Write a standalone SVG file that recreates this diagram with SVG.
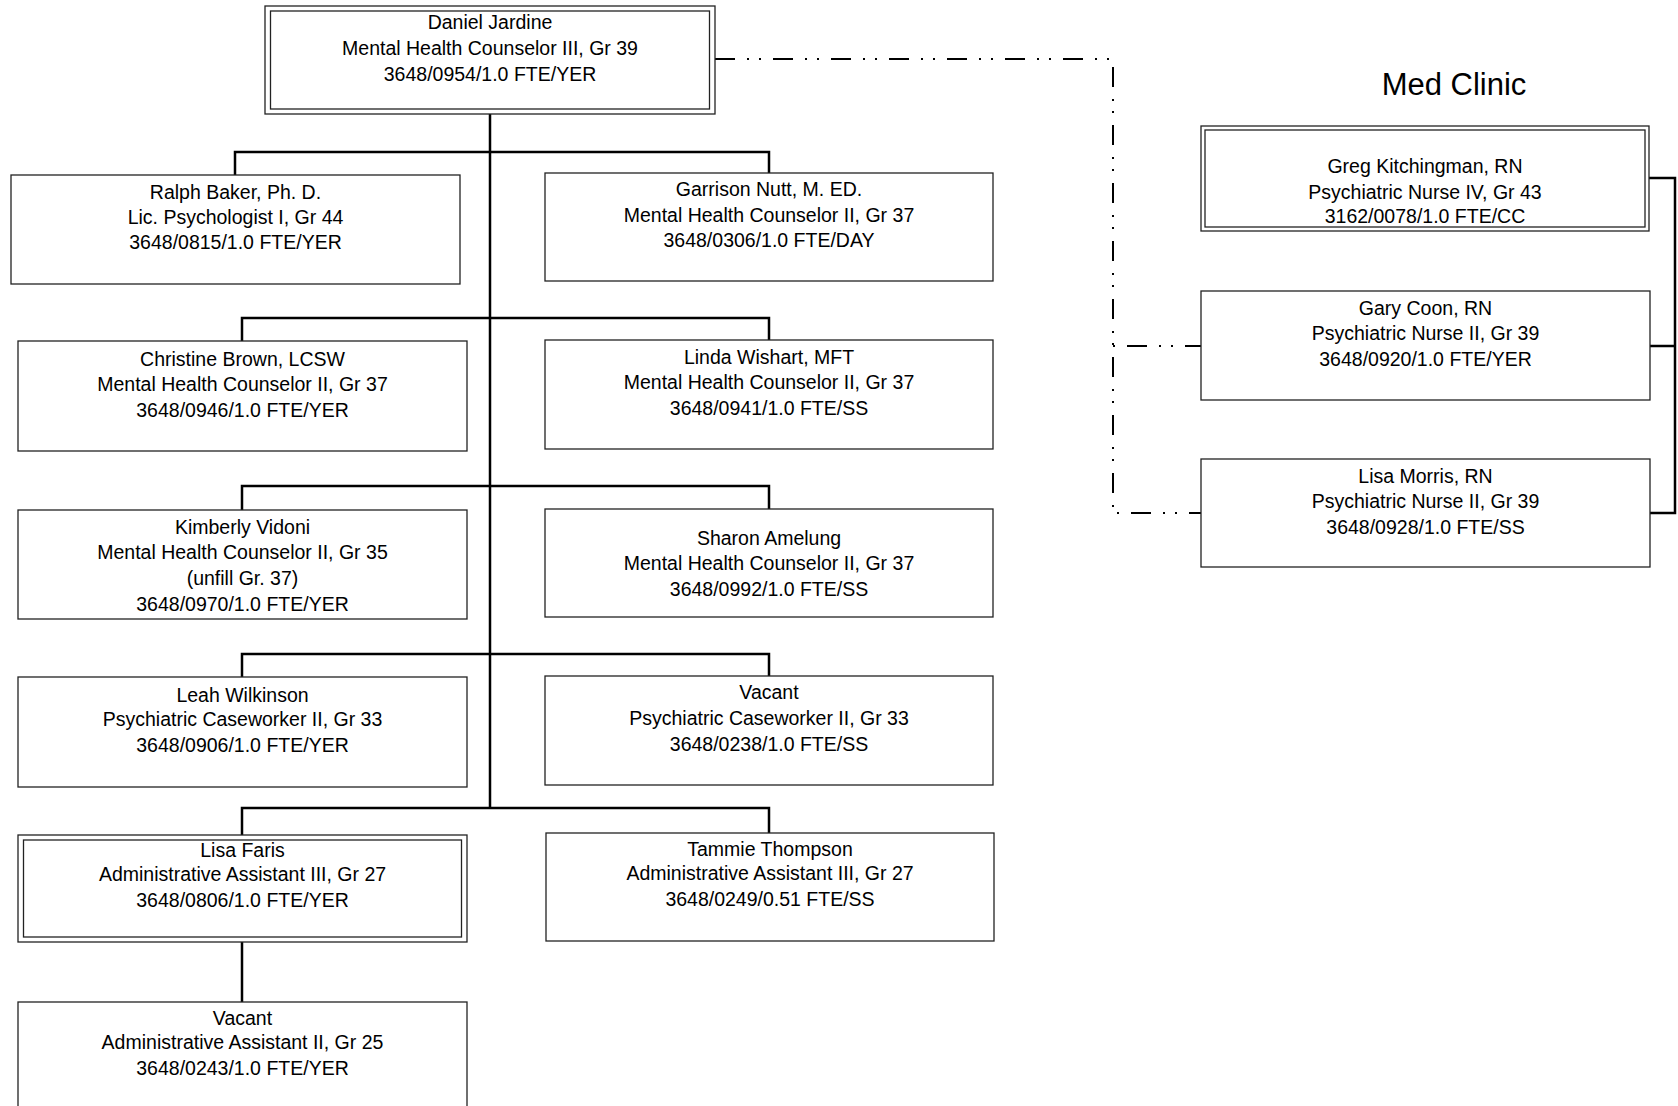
<svg xmlns="http://www.w3.org/2000/svg" width="1678" height="1106" viewBox="0 0 1678 1106">
<style>
.box{fill:#fff;stroke:#222;stroke-width:1.3}
.t{font-family:"Liberation Sans",Arial,sans-serif;font-size:19.5px;fill:#000;text-anchor:middle}
.title{font-family:"Liberation Sans",Arial,sans-serif;font-size:31px;fill:#000;text-anchor:middle}
.solid{fill:none;stroke:#000;stroke-width:2.5}
.dash{fill:none;stroke:#000;stroke-width:2;stroke-dasharray:20 12 2 10 2 12}
</style>
<rect width="1678" height="1106" fill="#fff"/>
<g id="connectors">
<path class="solid" d="M490,114 V808 M235,175 V152 H769 V173 M242,341 V318 H769 V340 M242,510 V486 H769 V509 M242,677 V654 H769 V676 M242,835 V808 H769 V833 M242,942 V1002"/>
<path class="solid" d="M1649,178 H1675 V513 H1650 M1650,346 H1675"/>
<path class="dash" d="M715,59 H1113 V513 H1201"/>
<path class="dash" style="stroke-dashoffset:44" d="M1113,346 H1201"/>
</g>
<text class="title" x="1454" y="95">Med Clinic</text>
<g id="daniel">
<rect class="box" x="265" y="6" width="450" height="108"/>
<rect class="box" x="270.5" y="11" width="439" height="98"/>
<text class="t" x="490" y="29">Daniel Jardine</text>
<text class="t" x="490" y="55">Mental Health Counselor III, Gr 39</text>
<text class="t" x="490" y="81">3648/0954/1.0 FTE/YER</text>
</g>
<g id="ralph">
<rect class="box" x="11" y="175" width="449" height="109"/>
<text class="t" x="235.5" y="199">Ralph Baker, Ph. D.</text>
<text class="t" x="235.5" y="224">Lic. Psychologist I, Gr 44</text>
<text class="t" x="235.5" y="249">3648/0815/1.0 FTE/YER</text>
</g>
<g id="garrison">
<rect class="box" x="545" y="173" width="448" height="108"/>
<text class="t" x="769" y="196">Garrison Nutt, M. ED.</text>
<text class="t" x="769" y="222">Mental Health Counselor II, Gr 37</text>
<text class="t" x="769" y="247">3648/0306/1.0 FTE/DAY</text>
</g>
<g id="christine">
<rect class="box" x="18" y="341" width="449" height="110"/>
<text class="t" x="242.5" y="366">Christine Brown, LCSW</text>
<text class="t" x="242.5" y="391">Mental Health Counselor II, Gr 37</text>
<text class="t" x="242.5" y="417">3648/0946/1.0 FTE/YER</text>
</g>
<g id="linda">
<rect class="box" x="545" y="340" width="448" height="109"/>
<text class="t" x="769" y="364">Linda Wishart, MFT</text>
<text class="t" x="769" y="389">Mental Health Counselor II, Gr 37</text>
<text class="t" x="769" y="415">3648/0941/1.0 FTE/SS</text>
</g>
<g id="kimberly">
<rect class="box" x="18" y="510" width="449" height="109"/>
<text class="t" x="242.5" y="534">Kimberly Vidoni</text>
<text class="t" x="242.5" y="559">Mental Health Counselor II, Gr 35</text>
<text class="t" x="242.5" y="585">(unfill Gr. 37)</text>
<text class="t" x="242.5" y="611">3648/0970/1.0 FTE/YER</text>
</g>
<g id="sharon">
<rect class="box" x="545" y="509" width="448" height="108"/>
<text class="t" x="769" y="545">Sharon Amelung</text>
<text class="t" x="769" y="570">Mental Health Counselor II, Gr 37</text>
<text class="t" x="769" y="596">3648/0992/1.0 FTE/SS</text>
</g>
<g id="leah">
<rect class="box" x="18" y="677" width="449" height="110"/>
<text class="t" x="242.5" y="702">Leah Wilkinson</text>
<text class="t" x="242.5" y="726">Psychiatric Caseworker II, Gr 33</text>
<text class="t" x="242.5" y="752">3648/0906/1.0 FTE/YER</text>
</g>
<g id="vacant-pc">
<rect class="box" x="545" y="676" width="448" height="109"/>
<text class="t" x="769" y="699">Vacant</text>
<text class="t" x="769" y="725">Psychiatric Caseworker II, Gr 33</text>
<text class="t" x="769" y="751">3648/0238/1.0 FTE/SS</text>
</g>
<g id="lisa-faris">
<rect class="box" x="18" y="835" width="449" height="107"/>
<rect class="box" x="23.5" y="840" width="438" height="97"/>
<text class="t" x="242.5" y="857">Lisa Faris</text>
<text class="t" x="242.5" y="881">Administrative Assistant III, Gr 27</text>
<text class="t" x="242.5" y="907">3648/0806/1.0 FTE/YER</text>
</g>
<g id="tammie">
<rect class="box" x="546" y="833" width="448" height="108"/>
<text class="t" x="770" y="856">Tammie Thompson</text>
<text class="t" x="770" y="880">Administrative Assistant III, Gr 27</text>
<text class="t" x="770" y="906">3648/0249/0.51 FTE/SS</text>
</g>
<g id="vacant-aa">
<rect class="box" x="18" y="1002" width="449" height="115"/>
<text class="t" x="242.5" y="1025">Vacant</text>
<text class="t" x="242.5" y="1049">Administrative Assistant II, Gr 25</text>
<text class="t" x="242.5" y="1075">3648/0243/1.0 FTE/YER</text>
</g>
<g id="greg">
<rect class="box" x="1201" y="126" width="448" height="105"/>
<rect class="box" x="1205" y="130" width="440" height="97"/>
<text class="t" x="1425" y="173">Greg Kitchingman, RN</text>
<text class="t" x="1425" y="199">Psychiatric Nurse IV, Gr 43</text>
<text class="t" x="1425" y="223">3162/0078/1.0 FTE/CC</text>
</g>
<g id="gary">
<rect class="box" x="1201" y="291" width="449" height="109"/>
<text class="t" x="1425.5" y="315">Gary Coon, RN</text>
<text class="t" x="1425.5" y="340">Psychiatric Nurse II, Gr 39</text>
<text class="t" x="1425.5" y="366">3648/0920/1.0 FTE/YER</text>
</g>
<g id="lisa-morris">
<rect class="box" x="1201" y="459" width="449" height="108"/>
<text class="t" x="1425.5" y="483">Lisa Morris, RN</text>
<text class="t" x="1425.5" y="508">Psychiatric Nurse II, Gr 39</text>
<text class="t" x="1425.5" y="534">3648/0928/1.0 FTE/SS</text>
</g>
</svg>
